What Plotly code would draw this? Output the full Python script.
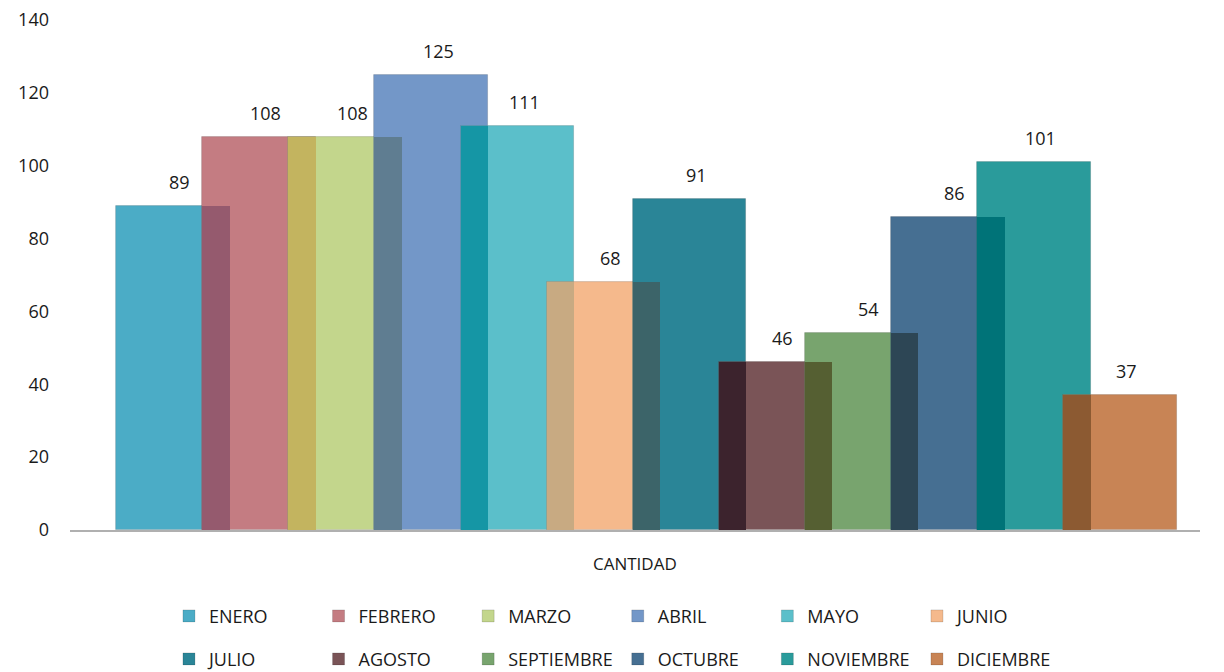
import plotly.graph_objects as go

months = ["ENERO", "FEBRERO", "MARZO", "ABRIL", "MAYO", "JUNIO",
          "JULIO", "AGOSTO", "SEPTIEMBRE", "OCTUBRE", "NOVIEMBRE", "DICIEMBRE"]
values = [89, 108, 108, 125, 111, 68, 91, 46, 54, 86, 101, 37]
colors = ["#4bacc6", "#c47c82", "#c3d68c", "#7397c8", "#5bbfca", "#f5b98c",
          "#2a8597", "#7a5457", "#78a46e", "#466f92", "#2a9b9b", "#c88455"]
# darker tones where neighbouring bars overlap
overlap_colors = ["#955a6e", "#c3b45f", "#5f7d91", "#1596a5", "#c8aa82",
                  "#3c6469", "#3c232d", "#555f32", "#2d4655", "#007378", "#8c5a32"]
category = "CANTIDAD"
y_ticks = [0, 20, 40, 60, 80, 100, 120, 140]

BAR_W = 1.32
FONT = "Open Sans"
TXT = "#1a1a1a"

fig = go.Figure()
for i, (m, v, c) in enumerate(zip(months, values, colors)):
    fig.add_trace(go.Bar(
        x=[i], y=[v], width=[BAR_W], name=m,
        marker=dict(color=c, line=dict(width=0.8, color="rgba(0,0,0,0.18)")),
        legend="legend" if i < 6 else "legend2",
        hoverinfo="name+y",
    ))

for i in range(len(values) - 1):
    h = min(values[i], values[i + 1])
    fig.add_trace(go.Bar(
        x=[i + 0.5], y=[h], width=[BAR_W - 1], showlegend=False,
        marker=dict(color=overlap_colors[i], line=dict(width=0)),
        hoverinfo="skip",
    ))

annotations = []
for i, v in enumerate(values):
    annotations.append(dict(x=i + 0.08, y=v, text=str(v), showarrow=False,
                            yshift=24, font=dict(family=FONT, size=18, color=TXT)))
annotations.append(dict(x=0.5, y=-0.065, xref="paper", yref="paper", text=category,
                        showarrow=False, yanchor="middle",
                        font=dict(family=FONT, size=17, color=TXT)))

legend_common = dict(orientation="h", xref="container", yref="container",
                     x=0.1315, xanchor="left", yanchor="top",
                     entrywidth=104.6, entrywidthmode="pixels",
                     font=dict(family=FONT, size=18, color=TXT),
                     bgcolor="rgba(0,0,0,0)", itemclick=False, traceorder="normal")

fig.update_layout(
    width=1224, height=672,
    margin=dict(l=62, r=32, t=12, b=150, autoexpand=False),
    paper_bgcolor="white", plot_bgcolor="white",
    barmode="overlay", bargap=0,
    font=dict(family=FONT, size=18, color=TXT),
    xaxis=dict(range=[-1.196, 11.93], showticklabels=False, showgrid=False,
               zeroline=False, showline=True, linecolor="#b0b0b0", linewidth=1.5,
               ticks=""),
    yaxis=dict(range=[0, 140], tickvals=y_ticks, showgrid=False, zeroline=False,
               showline=False, ticks="", ticklabelstandoff=20,
               ticklabeloverflow="allow",
               tickfont=dict(family=FONT, size=18, color=TXT)),
    legend=dict(y=0.1225, **legend_common),
    legend2=dict(y=0.0585, **legend_common),
    annotations=annotations,
    showlegend=True,
)

fig.write_html("out.html")
